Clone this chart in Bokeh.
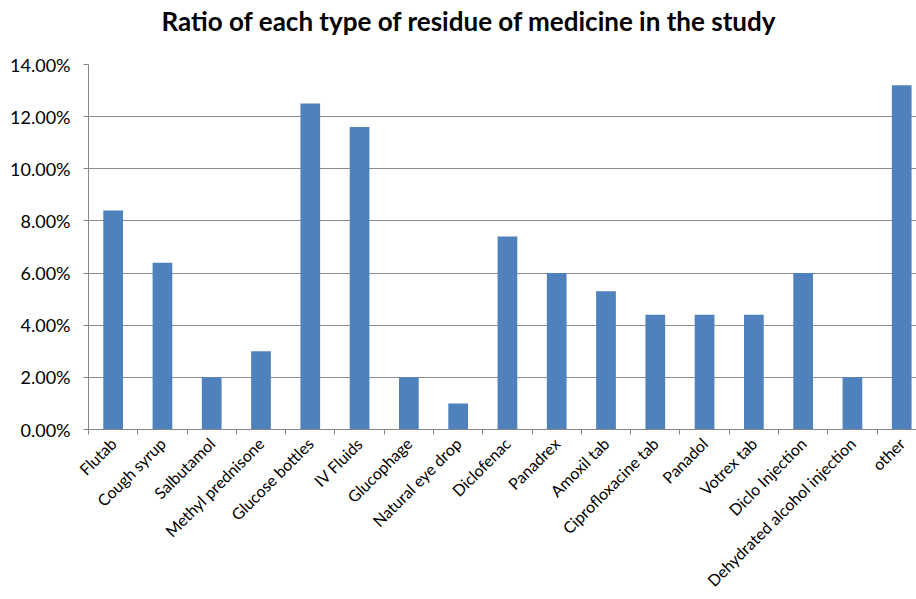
import math
from bokeh.plotting import figure
from bokeh.models import Range1d, FixedTicker, NumeralTickFormatter, ColumnDataSource, Title
from bokeh.embed import file_html
from bokeh.resources import INLINE

title_text = "Ratio of each type of residue of medicine in the study"
categories = ["Flutab", "Cough syrup", "Salbutamol", "Methyl prednisone", "Glucose bottles",
              "IV Fluids", "Glucophage", "Natural eye drop", "Diclofenac", "Panadrex",
              "Amoxil tab", "Ciprofloxacine tab", "Panadol", "Votrex tab", "Diclo Injection",
              "Dehydrated alcohol injection", "other"]
ratios = [0.084, 0.064, 0.020, 0.030, 0.125, 0.116, 0.020, 0.010, 0.074, 0.060,
          0.053, 0.044, 0.044, 0.044, 0.060, 0.020, 0.132]
y_ticks = [0.0, 0.02, 0.04, 0.06, 0.08, 0.10, 0.12, 0.14]

n = len(categories)
centers = [i + 0.5 for i in range(n)]
src = ColumnDataSource(dict(x=centers, top=ratios, name=categories))

FONT = "Lato"
p = figure(width=916, height=599, output_backend="svg", toolbar_location=None,
           x_range=Range1d(0, n - 0.2), y_range=Range1d(0, 0.14),
           min_border_left=88, min_border_right=0, min_border_top=64, min_border_bottom=169,
           title=title_text)
p.title.text_font = FONT
p.title.text_font_size = "26px"
p.title.text_font_style = "bold"
p.title.align = "left"
p.title.offset = 73
p.title.text_color = "black"
p.title.standoff = 0

# blank spacer panel between the title and the plot frame
p.add_layout(Title(text=" ", text_font_size="10px", standoff=15), "above")

p.vbar(x="x", top="top", width=0.4, bottom=0, source=src, fill_color="#4F81BD", line_color=None)

p.outline_line_color = None
p.xgrid.visible = False
p.ygrid.ticker = FixedTicker(ticks=y_ticks, minor_ticks=[])
p.ygrid.grid_line_color = "#8C8C8C"
p.ygrid.grid_line_width = 1

# x axis: labels at centres, tick marks at boundaries (minor ticks)
p.xaxis.ticker = FixedTicker(ticks=centers, minor_ticks=list(range(n + 1)))
p.xaxis.major_label_overrides = {c: name for c, name in zip(centers, categories)}
p.xaxis.major_label_orientation = math.pi / 4
p.xaxis.major_tick_line_color = None
p.xaxis.minor_tick_line_color = "#868686"
p.xaxis.minor_tick_in = 0
p.xaxis.minor_tick_out = 5
p.xaxis.axis_line_color = "#868686"
p.xaxis.major_label_text_font = FONT
p.xaxis.major_label_text_font_size = "16px"
p.xaxis.major_label_text_color = "black"
p.xaxis.major_label_standoff = 5

p.yaxis.ticker = FixedTicker(ticks=y_ticks, minor_ticks=[])
p.yaxis.formatter = NumeralTickFormatter(format="0.00%")
p.yaxis.axis_line_color = "#868686"
p.yaxis.major_tick_line_color = "#868686"
p.yaxis.major_tick_in = 0
p.yaxis.major_tick_out = 5
p.yaxis.minor_tick_line_color = None
p.yaxis.major_label_text_font = FONT
p.yaxis.major_label_text_font_size = "18px"
p.yaxis.major_label_text_color = "black"
p.yaxis.major_label_standoff = 13

open("out.html", "w").write(file_html(p, INLINE))
